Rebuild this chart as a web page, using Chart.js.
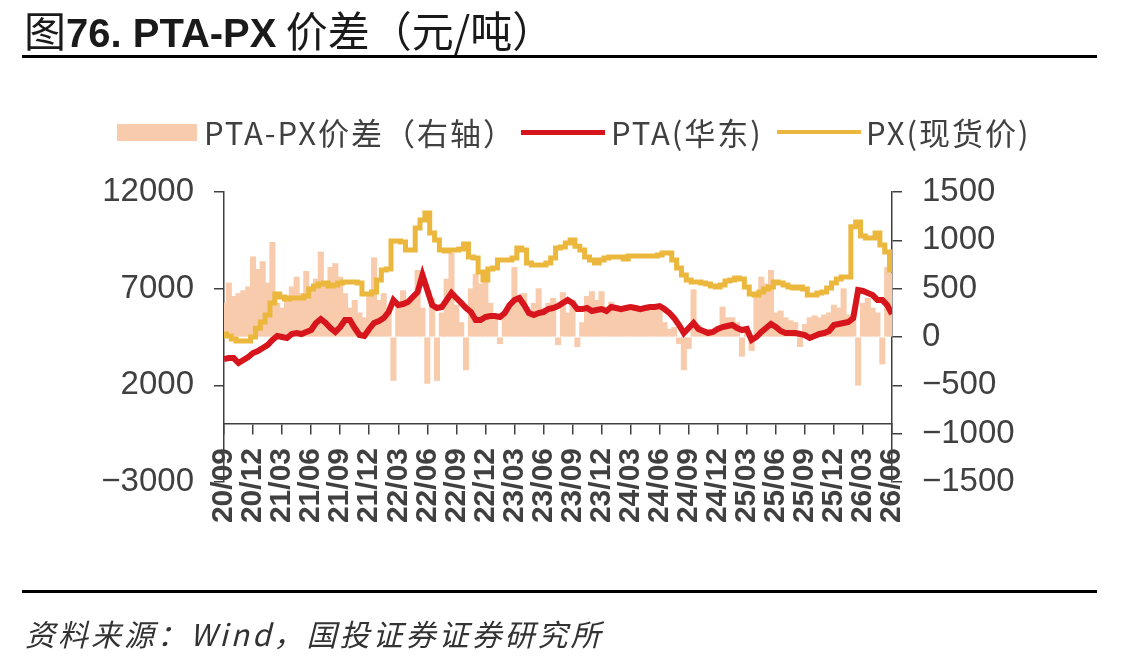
<!DOCTYPE html>
<html>
<head>
<meta charset="utf-8">
<script src="https://cdn.jsdelivr.net/npm/chart.js@4.4.1/dist/chart.umd.min.js"></script>
<style>
  html, body { margin: 0; padding: 0; background: #fff; }
  #wrap { position: relative; width: 1147px; height: 666px; overflow: hidden; font-family: "Noto Sans CJK SC", sans-serif; }
  #chart { position: absolute; left: 0; top: 0; }
  .title { position: absolute; left: 24px; top: 4px; font-size: 42px; line-height: 50px; color: #1a1a1a; white-space: nowrap; }
  .title b { font-family: "Liberation Sans", Arial, sans-serif; font-weight: 700; font-size: 40px; }
  .rule { position: absolute; left: 22px; width: 1075px; height: 3px; background: #000; }
  .lg { position: absolute; top: 111px; height: 42px; line-height: 42px; font-size: 31px; letter-spacing: 2px; color: #404040; white-space: nowrap; }
  .sw { position: absolute; }
  .source { position: absolute; left: 25px; top: 612px; font-size: 30px; line-height: 42px; font-style: italic; letter-spacing: 3px; color: #333; white-space: nowrap; }
</style>
</head>
<body>
<div id="wrap">
  <canvas id="chart" width="1147" height="666"></canvas>
  <div class="title">图<b>76. PTA-PX</b> 价差（元/吨）</div>
  <div class="rule" style="top:55px"></div>

  <div class="sw" style="left:117px;top:124px;width:80px;height:17px;background:#F8CBAD"></div>
  <div class="lg" style="left:204px">PTA-PX价差（右轴）</div>
  <div class="sw" style="left:521px;top:130px;width:84px;height:5px;background:#D7151C"></div>
  <div class="lg" style="left:611px">PTA(华东)</div>
  <div class="sw" style="left:777px;top:130px;width:84px;height:4px;background:#EBB73D"></div>
  <div class="lg" style="left:866px">PX(现货价)</div>

  <div class="rule" style="top:590px"></div>
  <div class="source">资料来源：Wind，国投证券证券研究所</div>
</div>
<script>
'use strict';

// x axis tick labels, one every quarter from Sep 2020 to Jun 2026
const quarterLabels = ['20/09', '20/12', '21/03', '21/06', '21/09', '21/12', '22/03', '22/06',
  '22/09', '22/12', '23/03', '23/06', '23/09', '23/12', '24/03', '24/06', '24/09', '24/12',
  '25/03', '25/06', '25/09', '25/12', '26/03', '26/06'];

// one reading every half month, starting Sep 2020 (left axis, yuan/ton)
const pxPrice = [
  4650, 4550, 4400, 4290, 4290, 4290, 4500, 4950, 5280, 5640,
  6260, 6720, 6570, 6465, 6515, 6515, 6515, 6620, 6980, 7140,
  7240, 7290, 7140, 7190, 7290, 7345, 7345, 7345, 7290, 6720,
  6720, 6825, 7450, 7965, 8015, 9465, 9465, 9410, 9000, 9000,
  10140, 10550, 10910, 9880, 9520, 9000, 8950, 9000, 9000, 9050,
  9310, 8640, 8585, 7860, 7450, 8020, 8070, 8480, 8480, 8480,
  8585, 9100, 9000, 8330, 8220, 8220, 8220, 8330, 8590, 9100,
  9150, 9360, 9520, 9200, 9000, 8640, 8480, 8330, 8480, 8590,
  8640, 8640, 8640, 8530, 8690, 8690, 8690, 8690, 8690, 8690,
  8740, 8840, 8840, 8480, 8070, 7710, 7450, 7345, 7345, 7290,
  7240, 7140, 7085, 7190, 7400, 7450, 7550, 7500, 7085, 6720,
  6670, 6825, 6980, 7085, 7345, 7290, 7190, 7085, 7030, 7085,
  6980, 6670, 6670, 6775, 6825, 7030, 7290, 7500, 7600, 7600,
  10200, 10450, 9720, 9620, 9620, 9880, 9260, 8900, 7960
];

const ptaPrice = [
  3360, 3410, 3410, 3155, 3310, 3465, 3670, 3775, 3930, 4085,
  4345, 4550, 4500, 4450, 4655, 4705, 4655, 4760, 4860, 5225,
  5430, 5225, 4965, 4760, 5015, 5380, 5380, 4965, 4600, 4550,
  4915, 5225, 5325, 5480, 5790, 6410, 6155, 6205, 6310, 6570,
  6825, 7705, 6930, 6155, 6000, 6050, 6410, 6775, 6515, 6260,
  6000, 5790, 5380, 5380, 5535, 5585, 5585, 5535, 5740, 6155,
  6410, 6515, 6155, 5740, 5640, 5740, 5790, 5945, 6000, 6100,
  6260, 6410, 6260, 5945, 5945, 6000, 5845, 5895, 5945, 5845,
  6050, 6000, 5945, 6000, 6050, 6000, 5945, 6000, 6050, 6050,
  6100, 5945, 5740, 5480, 5120, 4705, 4965, 5225, 4915, 4810,
  4705, 4760, 4915, 5015, 5070, 5120, 4965, 4860, 4915, 4345,
  4500, 4760, 4965, 5170, 5015, 4810, 4705, 4705, 4705, 4655,
  4600, 4450, 4550, 4655, 4705, 4810, 5120, 5170, 5225, 5275,
  5480, 6930, 6880, 6775, 6670, 6410, 6410, 6150, 5690
];

// PTA-PX spread (right axis)
const spread = [
  350, 560, 420, 450, 480, 520, 830, 700, 780, 560,
  980, 350, 300, 380, 520, 620, 450, 680, 520, 600,
  880, 560, 720, 760, 620, 450, 300, 380, 250, 200,
  420, 820, 380, 450, 300, -450, 320, 480, 350, 420,
  690, 300, -480, 400, -450, 250, 600, 870, 330, 150,
  -340, 500, 650, 550, 620, 350, 200, -70, 250, 350,
  720, 400, 450, 250, 350, 500, 300, 350, 400, -80,
  460, 250, 380, -100, 150, 420, 470, 380, 470, 300,
  360, 280, 320, 300, 270, 330, 290, 310, 280, 320,
  300, 150, 80, 100, -70, -340, -120, 490, 120, 60,
  80, 60, 100, 310, 200, 200, 150, -200, 100, -140,
  450, 620, 550, 690, 250, 270, 200, 170, 150, -100,
  130, 200, 220, 200, 230, 250, 330, 300, 500, 230,
  170, -500, 350, 400, 300, 250, -280, 720, 660
];

// position on the x axis in months since Sep 2020 (half-month steps)
const toPoints = arr => arr.map((v, i) => ({ x: i / 2, y: v }));

const axisColor = '#404040';
const minusFmt = v => (v < 0 ? '\u2212' + Math.abs(v) : String(v));

function renderChart() {
  const ctx = document.getElementById('chart').getContext('2d');

  const chartData = {
    datasets: [{
      type: 'line',
      label: 'PX(现货价)',
      data: toPoints(pxPrice),
      yAxisID: 'y',
      borderColor: '#EBB73D',
      borderWidth: 5,
      pointRadius: 0,
      stepped: 'middle',
      order: 1
    },
    {
      type: 'line',
      label: 'PTA(华东)',
      data: toPoints(ptaPrice),
      yAxisID: 'y',
      borderColor: '#D7151C',
      borderWidth: 6,
      pointRadius: 0,
      tension: 0,
      order: 2
    },
    {
      type: 'bar',
      label: 'PTA-PX价差（右轴）',
      data: toPoints(spread),
      yAxisID: 'y1',
      backgroundColor: '#F8CBAD',
      borderWidth: 0,
      barThickness: 5.4,
      order: 3
    }]
  };

  const tickFont = { family: '"Liberation Sans", Arial, sans-serif', size: 33 };

  const chartOptions = {
    responsive: false,
    animation: false,
    events: [],
    layout: { padding: { top: 192, bottom: 184, left: 0, right: 0 } },
    plugins: { legend: { display: false }, tooltip: { enabled: false } },
    scales: {
      x: {
        type: 'linear',
        position: { y: 0 },
        min: 0,
        max: 69,
        offset: false,
        afterFit: s => { s.height = 0; },
        grid: { drawOnChartArea: false, offset: false, tickLength: 10, color: axisColor, lineWidth: 1.5 },
        border: { color: axisColor, width: 1.5 },
        ticks: {
          stepSize: 3,
          autoSkip: false,
          minRotation: 90,
          maxRotation: 90,
          padding: 14,
          color: axisColor,
          font: { family: '"Liberation Sans", Arial, sans-serif', size: 30, weight: 'bold' },
          callback: v => quarterLabels[Math.round(v / 3)]
        }
      },
      y: {
        position: 'left',
        min: -3000,
        max: 12000,
        afterFit: s => { s.width = 224; },
        grid: { drawOnChartArea: false, tickLength: 10, color: axisColor, lineWidth: 1.5 },
        border: { color: axisColor, width: 1.5 },
        ticks: { stepSize: 5000, padding: 20, color: axisColor, font: tickFont, callback: minusFmt }
      },
      y1: {
        position: 'right',
        min: -1500,
        max: 1500,
        afterFit: s => { s.width = 255; },
        grid: { drawOnChartArea: false, tickLength: 10, color: axisColor, lineWidth: 1.5 },
        border: { color: axisColor, width: 1.5 },
        ticks: { stepSize: 500, padding: 20, color: axisColor, font: tickFont, callback: minusFmt }
      }
    }
  };

  new Chart(ctx, { type: 'line', data: chartData, options: chartOptions });
}

renderChart();
</script>
</body>
</html>
